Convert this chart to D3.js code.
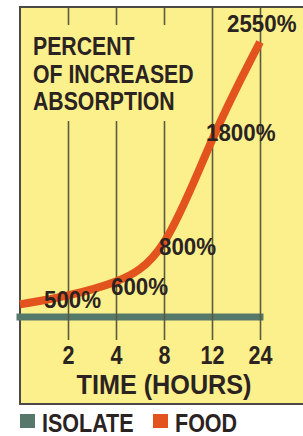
<!DOCTYPE html>
<meta charset="utf-8">
<style>
body { margin: 0; background: #fff; }
text { font-family: "Liberation Sans", Arial, sans-serif; font-weight: bold; fill: #2a2321; }
.grid line { stroke: #5c5a3c; stroke-width: 1.6px; }
.grid text { font-size: 25px; }
.food { fill: none; stroke: #e2531d; stroke-width: 8px; }
.isolate { fill: none; stroke: #55786a; stroke-width: 7px; stroke-linecap: square; }
</style>
<body>
<script src="https://cdn.jsdelivr.net/npm/d3@7"></script>
<script>

// time points (h); "0" is the unlabelled start at the left edge
var times = ["0", "2", "4", "8", "12", "24"];
var tickLabels = ["2", "4", "8", "12", "24"];
var foodPct = [300, 500, 600, 800, 1800, 2550];
var isolatePct = [0, 0, 0, 0, 0, 0];
var pctLabels = ["500%", "600%", "800%", "1800%", "2550%"];
var titleLines = ["PERCENT", "OF INCREASED", "ABSORPTION"];
var legendItems = ["ISOLATE", "FOOD"];

var width = 303, height = 436;
var box = {left: 20, top: 7, bottom: 404};
var axisY = 340;

var x = d3.scalePoint().domain(times).range([20, 260]);
// not drawn to scale near the baseline, so piecewise
var y = d3.scaleLinear().domain([0, 500, 2550]).range([317, 296, 42]);

// no condensed face installed: squeeze the bold one
function condense(sel, k) {
  sel.each(function() {
    var w = this.getComputedTextLength();
    d3.select(this).attr("textLength", w * k).attr("lengthAdjust", "spacingAndGlyphs");
  });
}

var svg = d3.select("body").append("svg")
    .attr("width", width)
    .attr("height", height);

svg.append("rect")
    .attr("x", box.left)
    .attr("y", box.top)
    .attr("width", width)
    .attr("height", box.bottom - box.top)
    .attr("fill", "#fbf08c")
    .attr("stroke", "#4b4a44")
    .attr("stroke-width", 2);

var line = d3.line()
    .x(function(d, i) { return x(times[i]); })
    .y(function(d) { return y(d); });

svg.append("path")
    .datum(isolatePct)
    .attr("class", "isolate")
    .attr("d", line);

// grid lines double as the x axis
var grid = svg.append("g")
    .attr("class", "grid")
    .attr("transform", "translate(0," + axisY + ")")
    .call(d3.axisBottom(x).tickValues(tickLabels).tickSize(-(axisY - box.top - 1)).tickPadding(6));
grid.select(".domain").remove();
grid.selectAll("text").attr("fill", null).attr("font-family", null).attr("font-size", null)
    .call(condense, 0.86);

// title sits on a patch of the panel colour, cutting the grid lines
svg.append("rect")
    .attr("x", 26).attr("y", 25)
    .attr("width", 174).attr("height", 96)
    .attr("fill", "#fbf08c");

svg.append("g").selectAll("text")
    .data(titleLines)
  .enter().append("text")
    .attr("x", 33)
    .attr("y", function(d, i) { return 55 + i * 27.5; })
    .attr("font-size", "25px")
    .text(function(d) { return d; })
    .call(condense, 0.85);

var curve = d3.line()
    .x(function(d, i) { return x(times[i]); })
    .y(function(d) { return y(d); })
    .curve(d3.curveBasis);

svg.append("path")
    .datum(foodPct)
    .attr("class", "food")
    .attr("d", curve);

// hand placed value labels
var labelDx = [-24, -5, -5, -6, -33];
var labelDy = [12, 11, -4, 6, -10];
svg.append("g").selectAll("text")
    .data(pctLabels)
  .enter().append("text")
    .attr("font-size", "24px")
    .attr("x", function(d, i) { return x(times[i + 1]) + labelDx[i]; })
    .attr("y", function(d, i) { return y(foodPct[i + 1]) + labelDy[i]; })
    .text(function(d) { return d; })
    .call(condense, 0.93);

svg.append("text")
    .attr("x", 164)
    .attr("y", 394)
    .attr("text-anchor", "middle")
    .attr("font-size", "28px")
    .text("TIME (HOURS)")
    .call(condense, 0.9);

// legend
var legendColors = ["#55786a", "#e2531d"];
var legendX = [20, 153];
var lg = svg.append("g").selectAll("g")
    .data(legendItems)
  .enter().append("g")
    .attr("transform", function(d, i) { return "translate(" + legendX[i] + ",414)"; });
lg.append("rect")
    .attr("width", 15).attr("height", 14)
    .attr("fill", function(d, i) { return legendColors[i]; });
lg.append("text")
    .attr("x", 22)
    .attr("y", 18)
    .attr("font-size", "25px")
    .text(function(d) { return d; })
    .call(condense, 0.86);

</script>
</body>
</html>
